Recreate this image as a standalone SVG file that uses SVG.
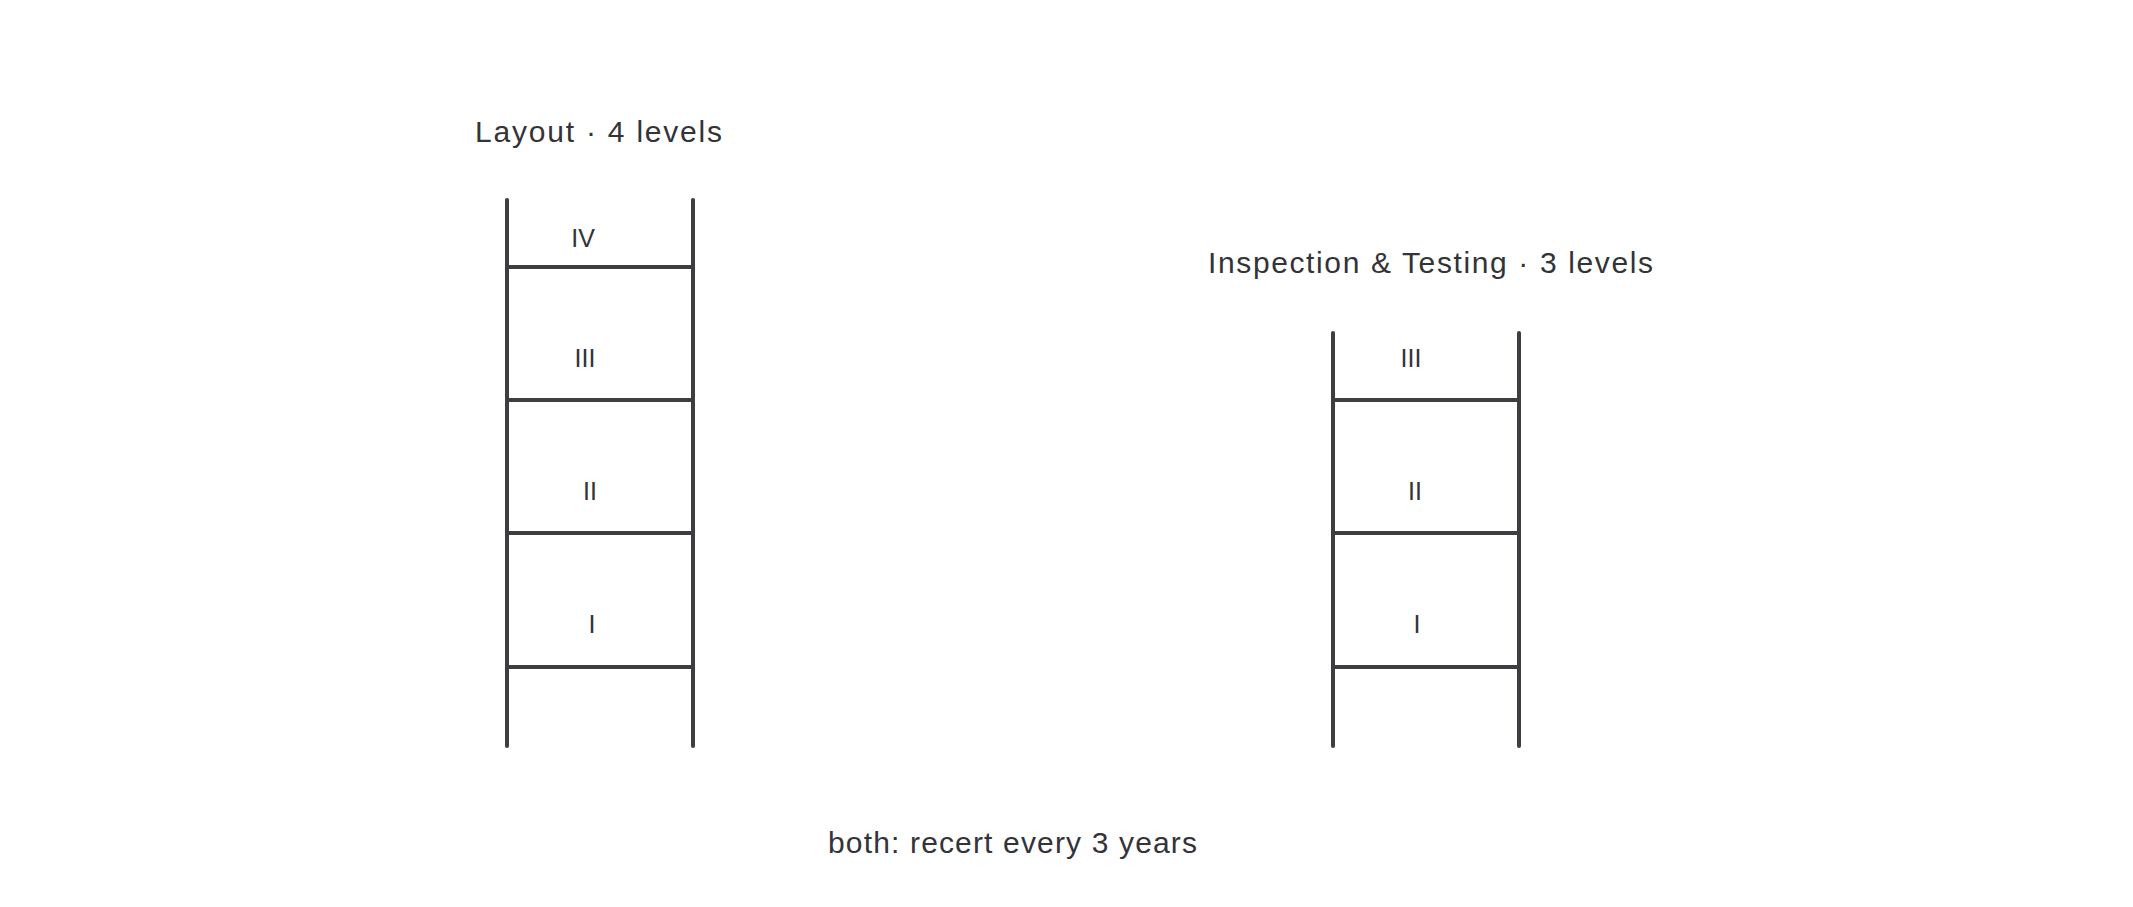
<svg xmlns="http://www.w3.org/2000/svg" width="2133" height="907" viewBox="0 0 2133 907">
<style>
.rail{stroke:#3d3d42;stroke-width:4;stroke-linecap:round;fill:none}
.rung{stroke:#3d3d42;stroke-width:4;stroke-linecap:butt;fill:none}
.title{font-family:"Liberation Sans",Arial,sans-serif;font-size:30px;fill:#333338}
.lvl{font-family:"Liberation Sans",Arial,sans-serif;font-size:25px;fill:#333338;text-anchor:middle}
</style>
<rect width="2133" height="907" fill="#ffffff"/>
<g id="layout-title"><text class="title" x="475" y="142" textLength="247" lengthAdjust="spacing">Layout · 4 levels</text></g>
<g id="layout-ladder">
<line class="rail" x1="507" y1="200" x2="507" y2="746"/>
<line class="rail" x1="693" y1="200" x2="693" y2="746"/>
<line class="rung" x1="507" y1="267" x2="693" y2="267"/>
<line class="rung" x1="507" y1="400" x2="693" y2="400"/>
<line class="rung" x1="507" y1="533" x2="693" y2="533"/>
<line class="rung" x1="507" y1="667" x2="693" y2="667"/>
</g>
<g id="layout-IV"><text class="lvl" x="583" y="247">IV</text></g>
<g id="layout-III"><text class="lvl" x="585" y="367">III</text></g>
<g id="layout-II"><text class="lvl" x="590" y="500">II</text></g>
<g id="layout-I"><text class="lvl" x="592" y="633">I</text></g>
<g id="it-title"><text class="title" x="1208" y="273" textLength="445" lengthAdjust="spacing">Inspection &amp; Testing · 3 levels</text></g>
<g id="it-ladder">
<line class="rail" x1="1333" y1="333" x2="1333" y2="746"/>
<line class="rail" x1="1519" y1="333" x2="1519" y2="746"/>
<line class="rung" x1="1333" y1="400" x2="1519" y2="400"/>
<line class="rung" x1="1333" y1="533" x2="1519" y2="533"/>
<line class="rung" x1="1333" y1="667" x2="1519" y2="667"/>
</g>
<g id="it-III"><text class="lvl" x="1411" y="367">III</text></g>
<g id="it-II"><text class="lvl" x="1415" y="500">II</text></g>
<g id="it-I"><text class="lvl" x="1417" y="633">I</text></g>
<g id="note"><text class="title" x="828" y="853" textLength="369" lengthAdjust="spacing">both: recert every 3 years</text></g>
<g id="connectors"/>
</svg>
